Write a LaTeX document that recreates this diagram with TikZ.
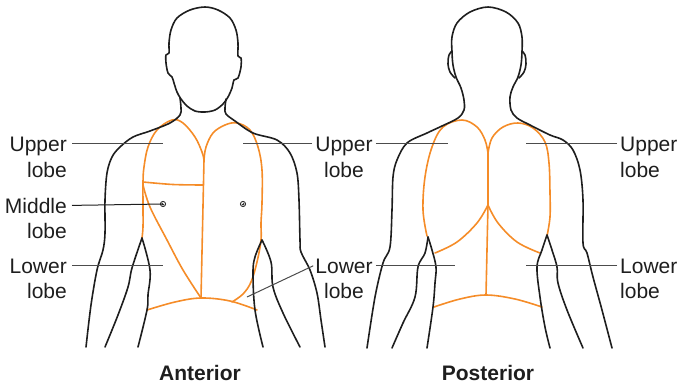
\documentclass[tikz,border=0pt]{standalone}
\usepackage{fontspec}
\setmainfont{Liberation Sans}
\definecolor{lung}{RGB}{245,140,40}
\definecolor{ink}{RGB}{30,30,30}
\begin{document}
\begin{tikzpicture}[x=1pt,y=-1pt,
  body/.style={draw=ink, line width=1.6pt, line join=round, line cap=round},
  lobeline/.style={draw=lung, line width=1.6pt, line join=round, line cap=round},
  lbl/.style={inner sep=0pt, text depth=0pt, font=\fontsize{21}{25}\selectfont, text=ink},
  ttl/.style={inner sep=0pt, font=\fontsize{21}{25}\selectfont\bfseries, text=ink},
  ptr/.style={draw=black!70, line width=1pt}]
\useasboundingbox (0,0) rectangle (678,384);

% ---------- Anterior view ----------
% lungs
\draw[lobeline] plot[smooth, tension=0.6] coordinates {(142,238) (143,227) (143,207) (143,182) (144,167) (148,147) (157,130) (172,120) (183,123) (195,137) (202,152) (204,160)};
\draw[lobeline] plot[smooth, tension=0.6] coordinates {(204,160) (206,147) (213,133) (225,125) (237,123) (250,130) (258,147) (262,170) (262,203) (261,223) (261,240) (257,262) (251,282) (243,294) (232,302)};
\draw[lobeline] (204,160) -- (201,298);
\draw[lobeline] plot[smooth] coordinates {(143,182) (173,184.5) (203,185)};
\draw[lobeline] plot[smooth, tension=0.6] coordinates {(143,185) (150,207) (167,240) (183,270) (201,298)};
\draw[lobeline] plot[smooth, tension=0.6] coordinates {(147,310) (175,302) (201,298) (230,301) (257,310)};

% head
\draw[body] plot[smooth cycle, tension=0.55] coordinates {(205,7) (218,10) (230,18) (236,30) (238,43) (238,56) (241,58) (241,67) (238,78) (234,80) (232,88) (228,97) (223,104) (215,110) (205,112) (195,111) (187,106) (181,99) (177,92) (174,83) (172,77) (168,73) (166,63) (166,55) (169,53) (169,43) (171,30) (177,18) (190,10)};
% neck, shoulders and outer arms
\draw[body] plot[smooth, tension=0.55] coordinates {(180,98) (181,108) (180,115) (170,123) (150,131) (133,137) (120,147) (112,157) (107,173) (105,200) (105,233) (103,250) (97,270) (91,305) (86,347)};
\draw[body] plot[smooth, tension=0.55] coordinates {(226,99) (225,108) (226,114) (235,121) (253,133) (277,140) (290,153) (297,173) (299,200) (300,240) (301,252) (310,270) (317,293) (321,320) (325,347)};
% flanks and inner arms
\draw[body] plot[smooth, tension=0.6] coordinates {(142,238) (150,270) (148,295) (147,310) (138,347)};
\draw[body] plot[smooth, tension=0.6] coordinates {(142,238) (132,268) (128,287) (118,315) (105,347)};
\draw[body] plot[smooth, tension=0.6] coordinates {(262,240) (255,257) (253,273) (255,310) (263,347)};
\draw[body] plot[smooth, tension=0.6] coordinates {(262,240) (271,262) (273,287) (283,313) (300,347)};
% nipples
\coordinate (nipL) at (163,204);
\coordinate (nipR) at (243,204);
\draw[ink, line width=0.8pt] (nipL) circle (2.6);
\draw[ink, line width=0.8pt] ([xshift=1.1pt]nipL) arc (0:250:1.1);
\draw[ink, line width=0.8pt] (nipR) circle (2.6);
\draw[ink, line width=0.8pt] ([xshift=-1.1pt]nipR) arc (180:-70:1.1);

% ---------- Posterior view ----------
% lungs
\draw[lobeline] plot[smooth, tension=0.6] coordinates {(427,236) (423,210) (425,177) (432,147) (443,127) (462,120) (477,127) (485,140) (488,153)};
\draw[lobeline] plot[smooth, tension=0.6] coordinates {(435,253) (457,242) (477,223) (488,205)};
\draw[lobeline] plot[smooth, tension=0.6] coordinates {(488,153) (492,138) (503,127) (518,123) (533,128) (545,142) (549,163) (550,193) (550,217) (547,236)};
\draw[lobeline] plot[smooth, tension=0.6] coordinates {(540,253) (517,242) (498,223) (488,205)};
\draw[lobeline] (488,153) -- (488,205) -- (486,295);
\draw[lobeline] plot[smooth, tension=0.6] coordinates {(434,307) (460,299) (486,295) (515,299) (542,307)};

% arms, shoulders, neck and back of head in one stroke
\draw[body] plot[smooth, tension=0.55] coordinates {(367,348) (375,297) (383,263) (390,247) (392,210) (393,177) (397,160) (407,143) (427,133) (442,126) (458,118) (464,110) (464,100) (461,88) (456,77) (453,65) (452,52) (452,37) (457,23) (470,12) (488,7) (506,12) (518,23) (522,37) (522,52) (521,65) (518,77) (513,87) (510,97) (511,110) (517,118) (530,125) (550,135) (563,140) (573,150) (580,170) (583,200) (583,243) (587,253) (593,277) (602,310) (612,348)};
% ears
\draw[body] plot[smooth, tension=0.6] coordinates {(452,51) (449,55) (448,64) (450,72) (455,78)};
\draw[body] plot[smooth, tension=0.6] coordinates {(522,51) (525,55) (526,64) (524,72) (519,78)};
% flanks and inner arms
\draw[body] plot[smooth, tension=0.6] coordinates {(428,237) (432,250) (436,267) (435,283) (433,307) (427,348)};
\draw[body] plot[smooth, tension=0.6] coordinates {(428,237) (425,253) (418,267) (415,297) (403,323) (392,348)};
\draw[body] plot[smooth, tension=0.6] coordinates {(547,235) (542,250) (537,267) (540,297) (545,327) (550,348)};
\draw[body] plot[smooth, tension=0.6] coordinates {(547,235) (552,250) (557,267) (558,283) (567,310) (583,348)};

% ---------- labels ----------
\node[lbl, anchor=base east] (aUp)  at (67,151) {Upper};
\node[lbl, anchor=base east] (aUpB) at (67,177) {lobe};
\node[lbl, anchor=base east] (aMid) at (67,213) {Middle};
\node[lbl, anchor=base east] (aMidB) at (67,238) {lobe};
\node[lbl, anchor=base east] (aLo)  at (67,273) {Lower};
\node[lbl, anchor=base east] (aLoB) at (67,298) {lobe};

\node[lbl, anchor=base] (cUp)  at (344,151) {Upper};
\node[lbl, anchor=base] (cUpB) at (344,177) {lobe};
\node[lbl, anchor=base] (cLo)  at (344,273) {Lower};
\node[lbl, anchor=base] (cLoB) at (344,298) {lobe};

\node[lbl, anchor=base west] (pUp)  at (620,151) {Upper};
\node[lbl, anchor=base west] (pUpB) at (620,177) {lobe};
\node[lbl, anchor=base west] (pLo)  at (620,273) {Lower};
\node[lbl, anchor=base west] (pLoB) at (620,298) {lobe};

% pointer ends inside the figures
\coordinate (tAUpL) at (163,143);
\coordinate (tALoL) at (163,267);
\coordinate (tAUpR) at (243,143);
\coordinate (tALoR) at (247,297);
\coordinate (tPUpL) at (448,143);
\coordinate (tPLoL) at (455,267);
\coordinate (tPUpR) at (526,143);
\coordinate (tPLoR) at (526,267);

\draw[ptr] ([xshift=5pt]aUp.east) -- (tAUpL |- aUp.east);
\draw[ptr, draw=ink] ([xshift=5pt]aMid.east) -- (nipL);
\draw[ptr] ([xshift=5pt]aLo.east) -- (tALoL |- aLo.east);
\draw[ptr] ([xshift=-3pt]cUp.west) -- (tAUpR |- cUp.west);
\draw[ptr] ([xshift=3pt]cUp.east) -- (tPUpL |- cUp.east);
\draw[ptr] ([xshift=-2pt]cLo.west) -- (tALoR);
\draw[ptr] ([xshift=3pt]cLo.east) -- (tPLoL |- cLo.east);
\draw[ptr] ([xshift=-3pt]pUp.west) -- (tPUpR |- pUp.west);
\draw[ptr] ([xshift=-3pt]pLo.west) -- (tPLoR |- pLo.west);

% view titles
\node[ttl, anchor=base] (ant)  at (200,380) {Anterior};
\node[ttl, anchor=base] (post) at (488,380) {Posterior};
\end{tikzpicture}
\end{document}
